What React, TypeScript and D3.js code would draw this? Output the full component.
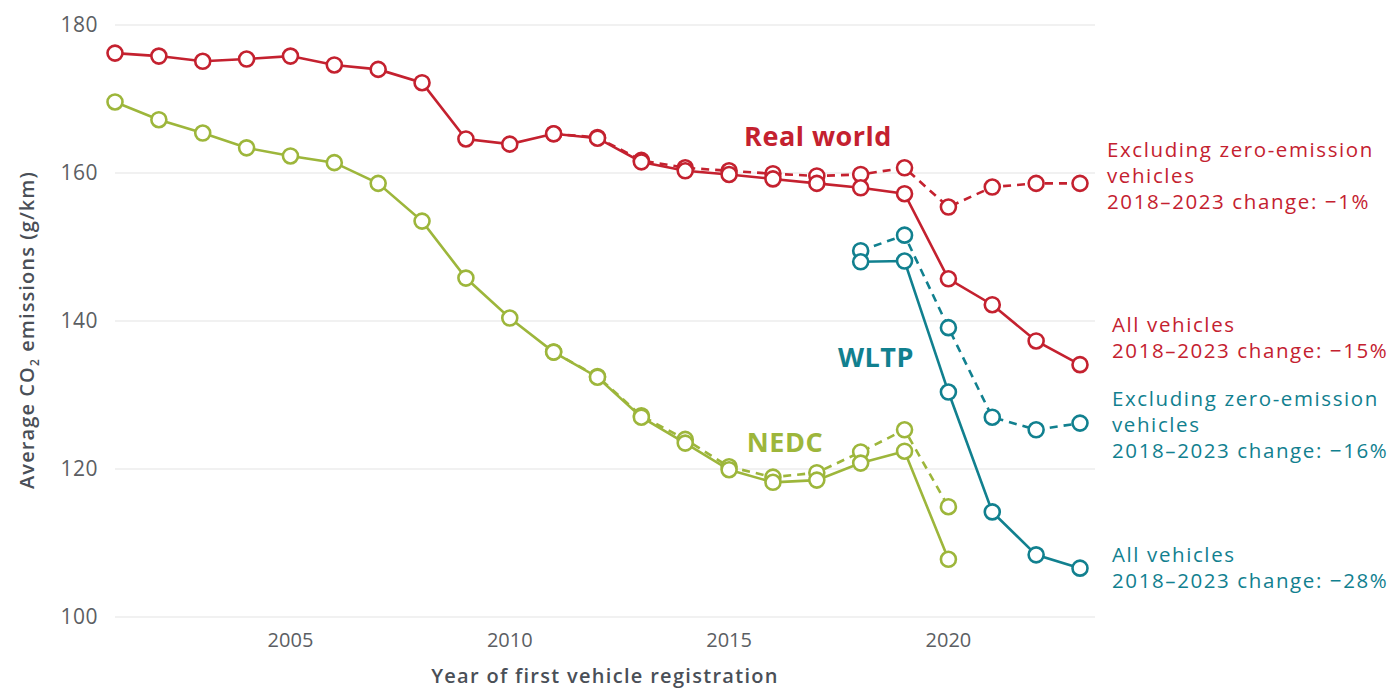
import React, { useEffect, useRef } from 'react';
import * as d3 from 'd3';

// years for each series
const yearsAll = d3.range(2001, 2024);
const yearsNedc = d3.range(2001, 2021);
const yearsExZev = d3.range(2011, 2024);
const yearsNedcExZev = d3.range(2011, 2021);
const yearsWltp = d3.range(2018, 2024);

// average CO2 emissions, g/km
const realWorldAll = [176.2, 175.8, 175.1, 175.4, 175.8, 174.6, 174.0, 172.2, 164.6, 163.9, 165.3, 164.7, 161.5, 160.3, 159.8, 159.2, 158.6, 158.0, 157.2, 145.7, 142.2, 137.3, 134.1];
const realWorldExZev = [165.3, 164.8, 161.7, 160.7, 160.3, 159.9, 159.6, 159.8, 160.7, 155.4, 158.1, 158.6, 158.6];
const nedcAll = [169.6, 167.2, 165.4, 163.4, 162.3, 161.4, 158.6, 153.5, 145.8, 140.4, 135.8, 132.4, 127.0, 123.5, 119.9, 118.2, 118.5, 120.8, 122.4, 107.8];
const nedcExZev = [135.8, 132.5, 127.2, 124.0, 120.3, 118.9, 119.5, 122.3, 125.3, 114.9];
const wltpAll = [148.0, 148.1, 130.4, 114.2, 108.4, 106.6];
const wltpExZev = [149.5, 151.6, 139.1, 127.0, 125.3, 126.2];

const yTicks = [100, 120, 140, 160, 180];
const xTicks = [2005, 2010, 2015, 2020];

const RED = '#c4212f';
const TEAL = '#11808f';
const GREEN = '#9db63b';
const FONT = '"Open Sans", sans-serif';

interface Series {
  years: number[];
  values: number[];
  color: string;
  dashed: boolean;
}

const series: Series[] = [
  { years: yearsExZev, values: realWorldExZev, color: RED, dashed: true },
  { years: yearsNedcExZev, values: nedcExZev, color: GREEN, dashed: true },
  { years: yearsWltp, values: wltpExZev, color: TEAL, dashed: true },
  { years: yearsAll, values: realWorldAll, color: RED, dashed: false },
  { years: yearsNedc, values: nedcAll, color: GREEN, dashed: false },
  { years: yearsWltp, values: wltpAll, color: TEAL, dashed: false },
];

const notes = [
  { color: RED, x: 1107, y: 157, lines: ['Excluding zero-emission', 'vehicles', '2018–2023 change: −1%'] },
  { color: RED, x: 1112, y: 332, lines: ['All vehicles', '2018–2023 change: −15%'] },
  { color: TEAL, x: 1112, y: 406, lines: ['Excluding zero-emission', 'vehicles', '2018–2023 change: −16%'] },
  { color: TEAL, x: 1112, y: 562, lines: ['All vehicles', '2018–2023 change: −28%'] },
];

const App: React.FC = () => {
  const svgRef = useRef<SVGSVGElement>(null);
  const width = 1400;
  const height = 700;

  useEffect(() => {
    if (!svgRef.current) return;
    const svg = d3.select(svgRef.current);
    svg.selectAll('*').remove();

    const x = d3.scaleLinear().domain([2001, 2023]).range([115, 1080]);
    const y = d3.scaleLinear().domain([100, 180]).range([617, 25]);

    // grid lines
    svg.append('g')
      .selectAll('line')
      .data(yTicks)
      .enter()
      .append('line')
      .attr('x1', 115)
      .attr('x2', 1095)
      .attr('y1', (d) => y(d))
      .attr('y2', (d) => y(d))
      .attr('stroke', '#e3e3e3')
      .attr('stroke-width', 1.2);

    // y tick labels
    svg.append('g')
      .selectAll('text')
      .data(yTicks)
      .enter()
      .append('text')
      .attr('x', 98)
      .attr('y', (d) => y(d))
      .attr('dy', '0.35em')
      .attr('text-anchor', 'end')
      .style('font-family', FONT)
      .style('font-size', '21px')
      .style('letter-spacing', '0.5px')
      .attr('fill', '#5b5e63')
      .text((d) => d);

    // x tick labels
    svg.append('g')
      .selectAll('text')
      .data(xTicks)
      .enter()
      .append('text')
      .attr('x', (d) => x(d))
      .attr('y', 647)
      .attr('text-anchor', 'middle')
      .style('font-family', FONT)
      .style('font-size', '20px')
      .attr('fill', '#5b5e63')
      .text((d) => d);

    // axis titles
    svg.append('text')
      .attr('x', 605)
      .attr('y', 683)
      .attr('text-anchor', 'middle')
      .style('font-family', FONT)
      .style('font-size', '20px')
      .style('font-weight', 600)
      .style('letter-spacing', '1.3px')
      .attr('fill', '#4a4f57')
      .text('Year of first vehicle registration');

    const yTitle = svg.append('text')
      .attr('transform', 'translate(34,330) rotate(-90)')
      .attr('text-anchor', 'middle')
      .style('font-family', FONT)
      .style('font-size', '20px')
      .style('font-weight', 600)
      .style('letter-spacing', '1.1px')
      .attr('fill', '#4a4f57');
    yTitle.append('tspan').text('Average CO');
    yTitle.append('tspan').attr('dy', 5).style('font-size', '12px').text('2');
    yTitle.append('tspan').attr('dy', -5).text(' emissions (g/km)');

    const line = d3
      .line<[number, number]>()
      .x((d) => x(d[0]))
      .y((d) => y(d[1]));

    series.forEach((s) => {
      const pts: [number, number][] = s.years.map((yr, i) => [yr, s.values[i]]);
      const g = svg.append('g');
      g.append('path')
        .datum(pts)
        .attr('fill', 'none')
        .attr('stroke', s.color)
        .attr('stroke-width', 2.6)
        .attr('stroke-dasharray', s.dashed ? '8,6' : null)
        .attr('d', line);
      g.selectAll('circle')
        .data(pts)
        .enter()
        .append('circle')
        .attr('cx', (d) => x(d[0]))
        .attr('cy', (d) => y(d[1]))
        .attr('r', 7.5)
        .attr('fill', '#ffffff')
        .attr('stroke', s.color)
        .attr('stroke-width', 2.6);
    });

    // series labels
    const labels = [
      { text: 'Real world', x: 818, y: 146, color: RED },
      { text: 'WLTP', x: 876, y: 367, color: TEAL },
      { text: 'NEDC', x: 785, y: 452, color: GREEN },
    ];
    svg.append('g')
      .selectAll('text')
      .data(labels)
      .enter()
      .append('text')
      .attr('x', (d) => d.x)
      .attr('y', (d) => d.y)
      .attr('text-anchor', 'middle')
      .style('font-family', FONT)
      .style('font-size', '27px')
      .style('font-weight', 700)
      .style('letter-spacing', '0.5px')
      .attr('fill', (d) => d.color)
      .text((d) => d.text);

    // right-hand notes
    notes.forEach((n) => {
      const t = svg.append('text')
        .attr('x', n.x)
        .attr('y', n.y)
        .style('font-family', FONT)
        .style('font-size', '20.5px')
        .style('font-weight', 500)
        .style('letter-spacing', '1.6px')
        .attr('fill', n.color);
      n.lines.forEach((l, i) => {
        t.append('tspan')
          .attr('x', n.x)
          .attr('dy', i === 0 ? 0 : 26)
          .text(l);
      });
    });
  }, []);

  return (
    <svg
      ref={svgRef}
      width={width}
      height={height}
      style={{ position: 'absolute', left: 0, top: 0, background: '#fff' }}
    />
  );
};

export default App;
